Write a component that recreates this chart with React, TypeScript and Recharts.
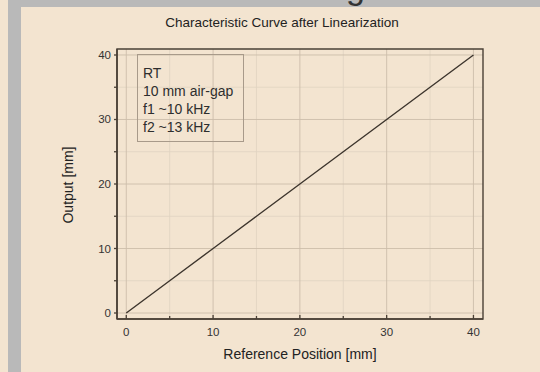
import React from 'react'
import { LineChart, Line, XAxis, YAxis, CartesianGrid, ReferenceArea } from 'recharts'

const referencePosition = [0, 5, 10, 15, 20, 25, 30, 35, 40]
const outputValues = [0, 5, 10, 15, 20, 25, 30, 35, 40]
const majorTicks = [0, 10, 20, 30, 40]
const minorTicks = [5, 15, 25, 35]
const allTicks = [0, 5, 10, 15, 20, 25, 30, 35, 40]
const legendLines = ['RT', '10 mm air-gap', 'f1 ~10 kHz', 'f2 ~13 kHz']

const data = referencePosition.map((x, i) => ({ x, y: outputValues[i] }))

const FONT = '"Liberation Sans", Arial, sans-serif'
const INK = '#4a4036'
const BG = '#f3e4d0'

const X_DOMAIN = [-1.07, 41.1]
const Y_DOMAIN = [-0.93, 40.93]

// tickSize/tickMargin are 0, so x/y here sit right on the axis line
const renderXTick = (props: any) => {
  const { x, y, payload } = props
  const major = payload.value % 10 === 0
  return (
    <g>
      <line x1={x} x2={x} y1={y} y2={y - (major ? 4 : 3)} stroke={INK} strokeWidth={1.3} />
      {major && (
        <text x={x} y={y + 17} textAnchor="middle" fontSize={11.5} fill="#333" fontFamily={FONT}>
          {payload.value}
        </text>
      )}
    </g>
  )
}

const renderYTick = (props: any) => {
  const { x, y, payload } = props
  const major = payload.value % 10 === 0
  return (
    <g>
      <line x1={x} x2={x - 3} y1={y} y2={y} stroke={INK} strokeWidth={1.3} />
      {major && (
        <text x={x - 6} y={y + 4} textAnchor="end" fontSize={11.5} fill="#333" fontFamily={FONT}>
          {payload.value}
        </text>
      )}
    </g>
  )
}

export default function App() {
  return (
    <div style={{ position: 'fixed', left: 0, top: 0, width: 540, height: 372, background: BG, overflow: 'hidden', fontFamily: FONT }}>
      {/* grey frame strips */}
      <div style={{ position: 'absolute', left: 8, top: 0, width: 13, height: 372, background: '#b9b9b9' }} />
      <div style={{ position: 'absolute', left: 8, top: 0, width: 532, height: 7, background: '#b9b9b9' }} />
      <div style={{ position: 'absolute', left: 346, top: -30, fontSize: 34, color: '#333', lineHeight: '34px' }}>g</div>

      <div style={{ position: 'absolute', left: 0, top: 15, width: 564, textAlign: 'center', fontSize: 13.5, color: '#222' }}>
        Characteristic Curve after Linearization
      </div>

      <LineChart width={540} height={372} data={data} margin={{ top: 49, right: 57, bottom: 23, left: 87 }} style={{ position: 'absolute', left: 0, top: 0 }}>
        <CartesianGrid verticalValues={minorTicks} horizontalValues={minorTicks} stroke="#e0d3c2" strokeWidth={0.8} />
        <CartesianGrid verticalValues={majorTicks} horizontalValues={majorTicks} stroke="#cdbdaa" strokeWidth={0.9} />
        <XAxis
          dataKey="x"
          type="number"
          domain={X_DOMAIN}
          ticks={allTicks}
          allowDataOverflow
          height={30}
          axisLine={{ stroke: INK, strokeWidth: 1.6 }}
          tickLine={false}
          tickSize={0}
          tickMargin={0}
          tick={renderXTick}
          interval={0}
        />
        <YAxis
          dataKey="y"
          type="number"
          domain={Y_DOMAIN}
          ticks={allTicks}
          allowDataOverflow
          width={30}
          axisLine={{ stroke: INK, strokeWidth: 1.6 }}
          tickLine={false}
          tickSize={0}
          tickMargin={0}
          tick={renderYTick}
          interval={0}
        />
        <ReferenceArea x1={X_DOMAIN[0]} x2={X_DOMAIN[1]} y1={Y_DOMAIN[0]} y2={Y_DOMAIN[1]} fill="none" stroke={INK} strokeWidth={1.4} fillOpacity={0} />
        <Line dataKey="y" type="linear" stroke="#3d352d" strokeWidth={1.4} dot={false} isAnimationActive={false} />
      </LineChart>

      <div style={{ position: 'absolute', left: 137, top: 54, width: 107, height: 88, border: '1px solid #a89a8a', boxSizing: 'border-box', padding: '9px 0 0 5px' }}>
        {legendLines.map((t) => (
          <div key={t} style={{ fontSize: 14, lineHeight: '18px', color: '#2e2e2e' }}>{t}</div>
        ))}
      </div>

      <div style={{ position: 'absolute', left: 0, top: 346, width: 600, textAlign: 'center', fontSize: 14, color: '#222' }}>
        Reference Position [mm]
      </div>
      <div style={{ position: 'absolute', left: 68, top: 185, width: 0, height: 0 }}>
        <div style={{ position: 'absolute', transform: 'translate(-50%, -50%) rotate(-90deg)', whiteSpace: 'nowrap', fontSize: 14, color: '#222' }}>
          Output [mm]
        </div>
      </div>
    </div>
  )
}
